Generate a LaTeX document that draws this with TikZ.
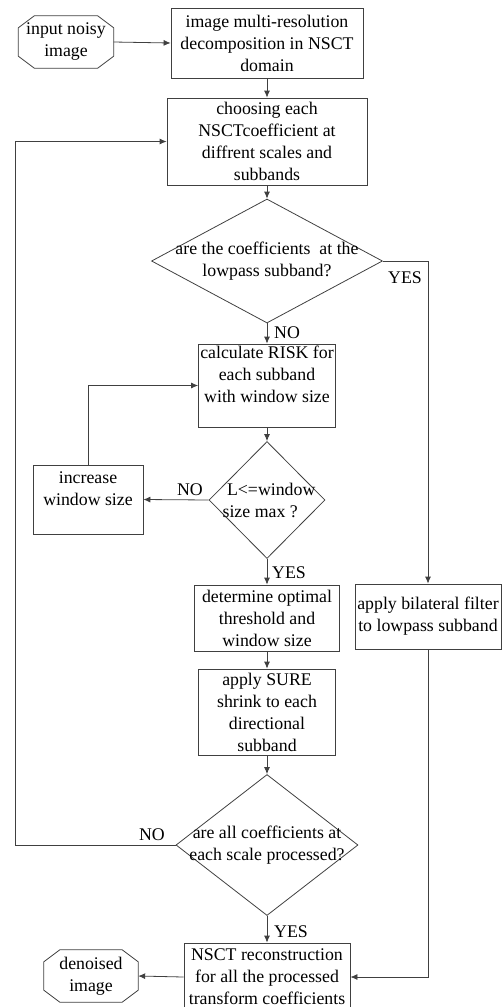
\documentclass[tikz,border=0pt]{standalone}
\usepackage{fontspec}
\setmainfont{Liberation Serif}
\newfontfamily\flowfont{Liberation Serif}
\usetikzlibrary{shapes}
\usetikzlibrary{arrows.meta}
\tikzset{>={Latex[length=7pt,width=6pt]}}
\tikzset{myBox/.style={draw=black!75, line width=0.8pt, inner sep=1pt, align=center, font=\flowfont\fontsize{17.8pt}{22pt}\selectfont}}
\tikzset{myDecision/.style={diamond, draw=black!75, line width=0.8pt, inner sep=0pt}}
\tikzset{myTerminal/.style={inner sep=0pt, align=center, font=\flowfont\fontsize{17.8pt}{22pt}\selectfont}}
\tikzset{myText/.style={align=center, inner sep=0pt, font=\flowfont\fontsize{17.8pt}{22pt}\selectfont}}
\tikzset{myLine/.style={draw=black!75, line width=0.8pt}}

\begin{document}
\begin{tikzpicture}[x=1pt, y=-1pt]

\useasboundingbox (0, 0) rectangle (501, 1007);

\node[myTerminal, minimum width=95pt, minimum height=52pt] (inNoisy) at (66, 42) {input noisy\\image};
\node[myBox, minimum width=192pt, minimum height=70pt] (decomp) at (267, 43) {image multi-resolution\\decomposition in NSCT\\domain};
\node[myBox, minimum width=200pt, minimum height=87pt] (choose) at (267, 141.5) {choosing each\\NSCTcoefficient at\\diffrent scales and\\subbands};

\node[myDecision, minimum width=231pt, minimum height=124pt,
  label={[myText]center:{are the coefficients\ \ at the\\lowpass subband?}}] (qLow) at (267, 261) {};

\node[myBox, minimum width=137pt, minimum height=83pt] (risk) at (267, 385.5) {calculate RISK for\\each subband\\with window size\\~};

\node[myDecision, minimum width=116pt, minimum height=117pt,
  label={[myText, align=left, xshift=2pt]center:{\ L<=window\\size max ?}}] (qWin) at (267, 500) {};

\node[myBox, minimum width=110pt, minimum height=69pt] (incWin) at (88, 499.5) {increase\\window size\\~};

\node[myBox, minimum width=145pt, minimum height=66pt] (optThr) at (267, 618) {determine optimal\\threshold and\\window size};
\node[myBox, minimum width=146pt, minimum height=65pt] (bilat) at (428, 616.5) {apply bilateral filter\\to lowpass subband};
\node[myBox, minimum width=137pt, minimum height=86pt] (sure) at (267, 712) {apply SURE\\shrink to each\\directional\\subband};

\node[myDecision, minimum width=182pt, minimum height=141pt,
  label={[myText]center:{are all coefficients at\\each scale processed?}}] (qAll) at (267, 845) {};

\node[myBox, minimum width=166pt, minimum height=68pt] (recon) at (267, 977) {NSCT reconstruction\\for all the processed\\transform coefficients};
\node[myTerminal, minimum width=94pt, minimum height=52pt] (denoised) at (91, 976) {denoised\\image};

% octagon outlines of the two terminals
\draw[myLine] ([xshift=16pt]inNoisy.north west) -- ([xshift=-16pt]inNoisy.north east)
  -- ([yshift=-12pt]inNoisy.north east) -- ([yshift=12pt]inNoisy.south east)
  -- ([xshift=-16pt]inNoisy.south east) -- ([xshift=16pt]inNoisy.south west)
  -- ([yshift=12pt]inNoisy.south west) -- ([yshift=-12pt]inNoisy.north west) -- cycle;
\draw[myLine] ([xshift=16pt]denoised.north west) -- ([xshift=-16pt]denoised.north east)
  -- ([yshift=-12pt]denoised.north east) -- ([yshift=12pt]denoised.south east)
  -- ([xshift=-16pt]denoised.south east) -- ([xshift=16pt]denoised.south west)
  -- ([yshift=12pt]denoised.south west) -- ([yshift=-12pt]denoised.north west) -- cycle;

\coordinate (loopL) at (15, 845);

% connectors
\draw[myLine, ->] (inNoisy.east) -- (decomp.west);
\draw[myLine, ->] (decomp.south) -- (choose.north);
\draw[myLine, ->] (choose.south) -- (qLow.north);
\draw[myLine, ->] (qLow.south) -- (risk.north);
\draw[myLine, ->] (risk.south) -- (qWin.north);
\draw[myLine, ->] (qWin.west) -- (incWin.east);
\draw[myLine, ->] (incWin.north) |- (risk.west);
\draw[myLine, ->] (qWin.south) -- (optThr.north);
\draw[myLine, ->] (optThr.south) -- (sure.north);
\draw[myLine, ->] (sure.south) -- (qAll.north);
\draw[myLine, ->] (qAll.west) -- (loopL) |- (choose.west);
\draw[myLine, ->] (qLow.east) -| (bilat.north);
\draw[myLine, ->] (bilat.south) |- (recon.east);
\draw[myLine, ->] (qAll.south) -- (recon.north);
\draw[myLine, ->] (recon.west) -- (denoised.east);

% YES / NO
\node[myText] (yesLow) at (405, 278) {YES};
\node[myText] (noLow) at (287, 333) {NO};
\node[myText] (noWin) at (190, 490) {NO};
\node[myText] (yesWin) at (289, 573) {YES};
\node[myText] (noAll) at (152, 835) {NO};
\node[myText] (yesAll) at (291, 932) {YES};

\end{tikzpicture}
\end{document}
